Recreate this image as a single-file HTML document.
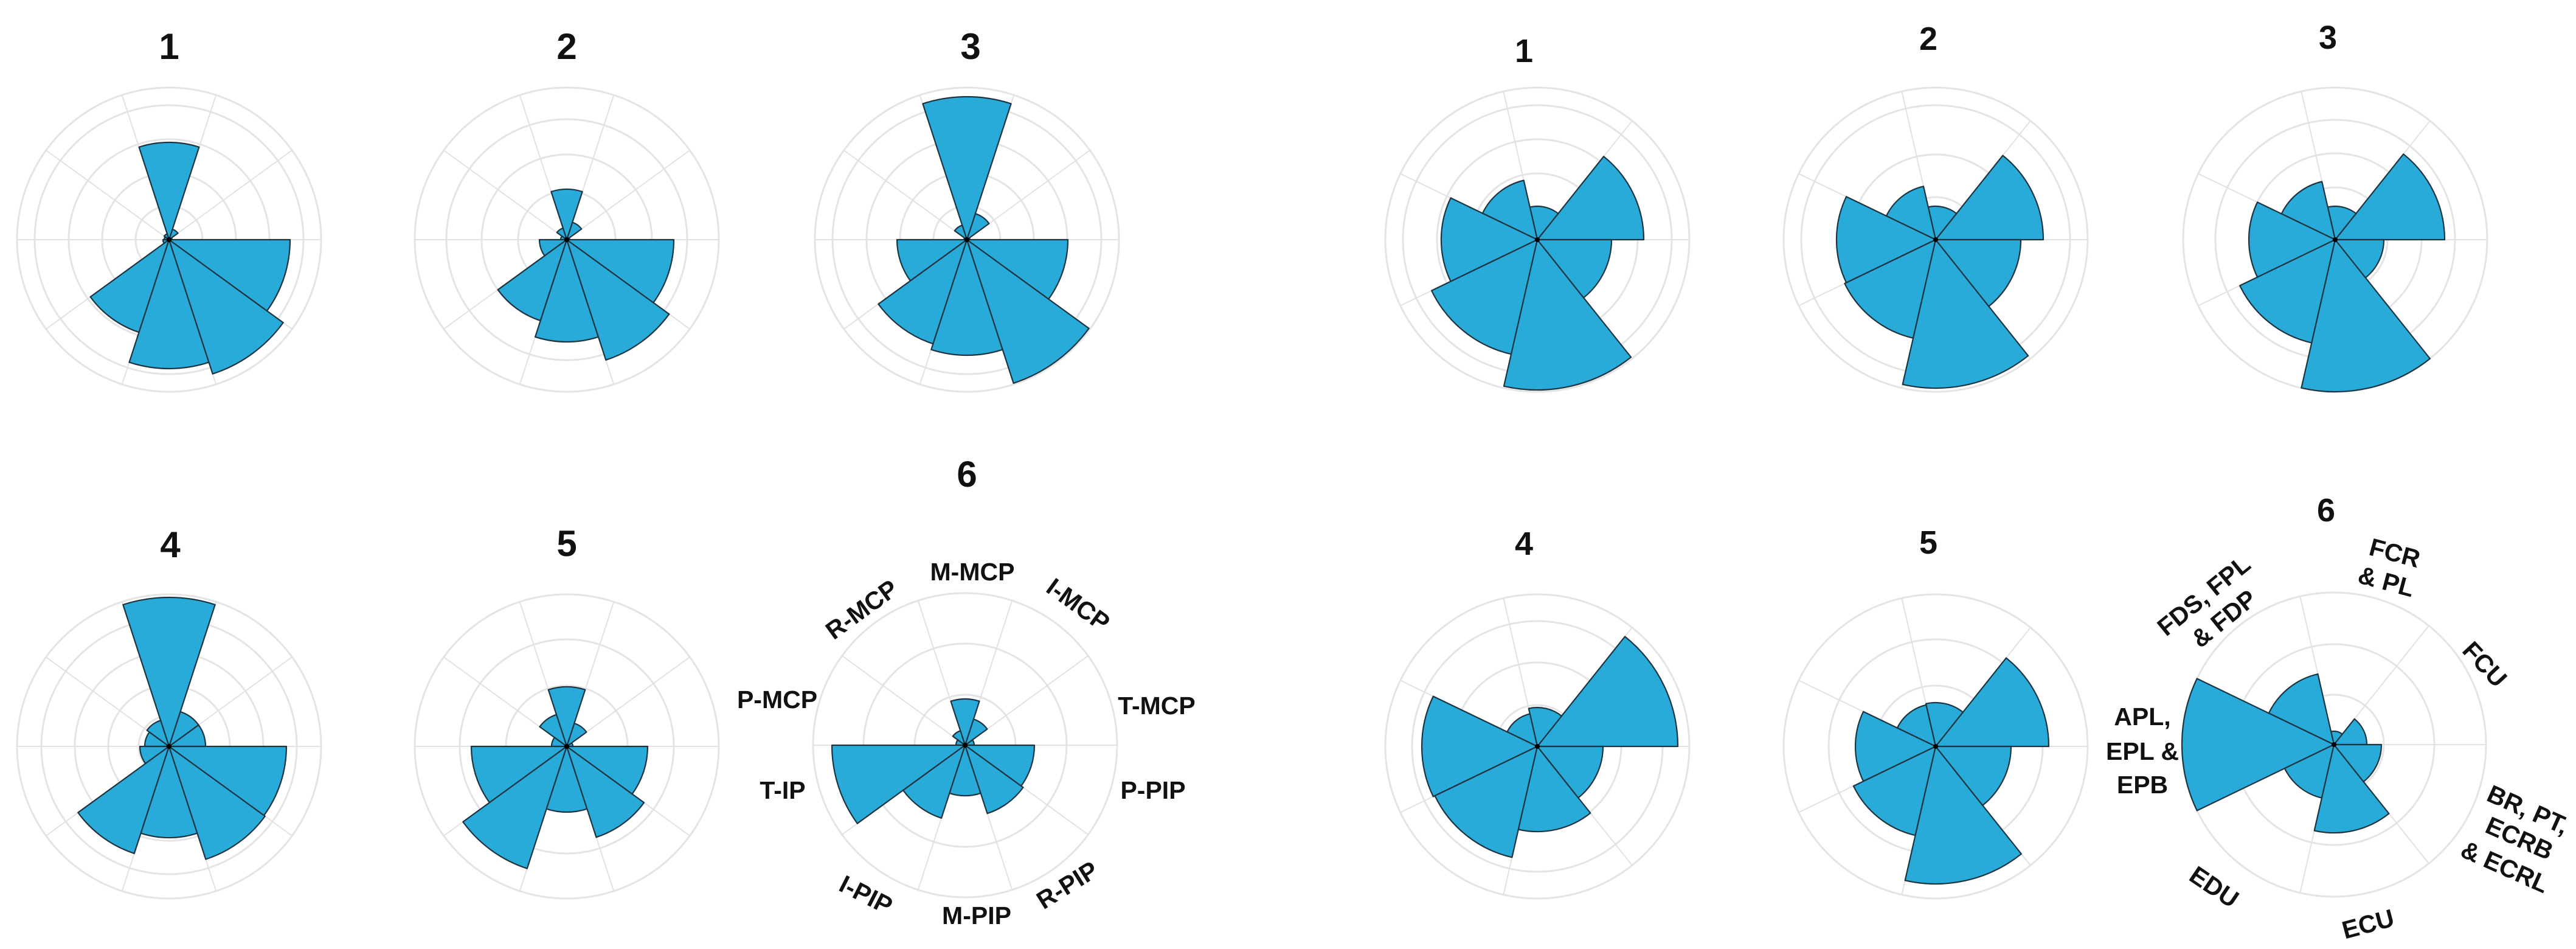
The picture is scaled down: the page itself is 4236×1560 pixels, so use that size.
<!DOCTYPE html>
<html><head><meta charset="utf-8"><style>
html,body{margin:0;padding:0;background:#fff;}
svg{display:block;}
text{font-family:"Liberation Sans",sans-serif;font-weight:bold;fill:#111;}
.t{font-size:60px;text-anchor:middle;}
.tr{font-size:54px;text-anchor:middle;}
.l{font-size:41px;text-anchor:middle;dominant-baseline:central;}
</style></head><body>
<svg id="s" width="4236" height="1560" viewBox="0 0 4236 1560" xmlns="http://www.w3.org/2000/svg">
<g id="charts"></g>
<text class="t" x="278" y="97">1</text>
<text class="t" x="932" y="97">2</text>
<text class="t" x="1596" y="97">3</text>
<text class="t" x="280" y="916">4</text>
<text class="t" x="932" y="914">5</text>
<text class="t" x="1590" y="800">6</text>
<text class="tr" x="2506" y="102">1</text>
<text class="tr" x="3171" y="82">2</text>
<text class="tr" x="3828" y="80">3</text>
<text class="tr" x="2506" y="912">4</text>
<text class="tr" x="3171" y="910">5</text>
<text class="tr" x="3825" y="857">6</text>

<text class="l" x="1599" y="940">M-MCP</text>
<text class="l" transform="translate(1773,994) rotate(36)">I-MCP</text>
<text class="l" transform="translate(1417,1002) rotate(-36)">R-MCP</text>
<text class="l" x="1902" y="1160">T-MCP</text>
<text class="l" x="1896" y="1299">P-PIP</text>
<text class="l" transform="translate(1755,1455) rotate(-32)">R-PIP</text>
<text class="l" x="1606" y="1505">M-PIP</text>
<text class="l" transform="translate(1424,1471) rotate(27)">I-PIP</text>
<text class="l" x="1287" y="1299">T-IP</text>
<text class="l" x="1278" y="1150">P-MCP</text>

<text class="l" transform="translate(3938,909) rotate(15)">FCR</text>
<text class="l" transform="translate(3924,956) rotate(15)">&amp; PL</text>
<text class="l" transform="translate(4086,1092) rotate(47)">FCU</text>
<text class="l" transform="translate(4157,1331) rotate(24)">BR, PT,</text>
<text class="l" transform="translate(4143,1378) rotate(24)">ECRB</text>
<text class="l" transform="translate(4119,1425) rotate(24)">&amp; ECRL</text>
<text class="l" transform="translate(3894,1519) rotate(-15)">ECU</text>
<text class="l" transform="translate(3641,1458) rotate(34)">EDU</text>
<text class="l" x="3523" y="1178">APL,</text>
<text class="l" x="3523" y="1235">EPL &amp;</text>
<text class="l" x="3523" y="1290">EPB</text>
<text class="l" transform="translate(3624,979) rotate(-39)">FDS, FPL</text>
<text class="l" transform="translate(3657,1017) rotate(-39)">&amp; FDP</text>
</svg>
<script>
(function(){
var g=document.getElementById('charts');var NS='http://www.w3.org/2000/svg';
function el(n,a){var e=document.createElementNS(NS,n);for(var k in a)e.setAttribute(k,a[k]);g.appendChild(e);return e;}
function chart(cx,cy,n,data,rings){
  rings.forEach(function(r){el('circle',{cx:cx,cy:cy,r:r,fill:'none',stroke:'#e4e4e4','stroke-width':3});});
  for(var i=0;i<n;i++){var a=i*2*Math.PI/n;
    el('line',{x1:cx,y1:cy,x2:cx+250*Math.cos(a),y2:cy-250*Math.sin(a),stroke:'#e2e2e2','stroke-width':2});}
  for(var i=0;i<n;i++){var r=data[i];if(r<=0)continue;
    var a1=i*2*Math.PI/n,a2=(i+1)*2*Math.PI/n;
    var d='M'+cx+','+cy+' L'+(cx+r*Math.cos(a1)).toFixed(1)+','+(cy-r*Math.sin(a1)).toFixed(1)+
      ' A'+r+','+r+' 0 0 0 '+(cx+r*Math.cos(a2)).toFixed(1)+','+(cy-r*Math.sin(a2)).toFixed(1)+' Z';
    el('path',{d:d,fill:'#29abda',stroke:'#1d3440','stroke-width':2.2,'stroke-linejoin':'round'});}
  el('circle',{cx:cx,cy:cy,r:4,fill:'#000'});
}
chart(278,394,10,[5,18,160,10,8,10,160,212,232,199],[250,221,165,110,55]);
chart(932,394,10,[5,30,83,20,10,45,140,168,208,176],[250,198,140,80]);
chart(1590,394,10,[5,45,235,25,5,115,180,190,248,166],[250,221,165,110,55]);
chart(278,1227,10,[60,60,245,45,40,48,185,150,195,193],[250,210,155,100,50]);
chart(932,1227,10,[10,40,98,55,25,157,211,108,157,133],[250,176,100]);
chart(1587,1225,10,[15,45,76,25,15,219,126,83,118,114],[250,167,83]);
chart(2528,394,7,[175,55,100,158,193,247,122],[250,221,165,109,53]);
chart(3183,394,7,[177,55,90,163,166,244,140],[250,221,140,70]);
chart(3840,394,7,[180,55,98,142,174,250,80],[250,197,142,86]);
chart(2528,1227,7,[231,64,55,190,187,140,108],[250,206,138,68]);
chart(3183,1227,7,[186,72,70,132,150,226,124],[250,176,100]);
chart(3838,1224,7,[54,22,119,250,90,145,78],[250,165,82]);
})();
</script>
</body></html>
